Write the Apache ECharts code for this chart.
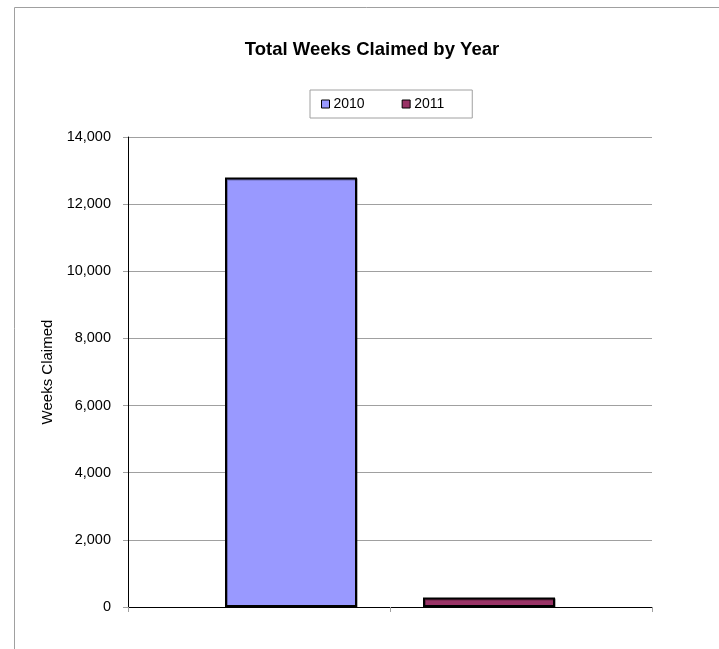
<!DOCTYPE html>
<html>
<head>
<meta charset="utf-8">
<script src="https://cdn.jsdelivr.net/npm/echarts@6/dist/echarts.min.js"></script>
<style>
  html, body { margin: 0; padding: 0; background: #fff; }
  #chart { width: 719px; height: 649px; }
</style>
</head>
<body>
<div id="chart"></div>
<script>
// data
var years = ["2010", "2011"];
var weeksClaimed = [12790, 280];
var barColors = ["#9999FF", "#993366"];
var yTicks = [0, 2000, 4000, 6000, 8000, 10000, 12000, 14000];

var chart = echarts.init(document.getElementById("chart"));

var seriesList = years.map(function (y, i) {
  return {
    name: y,
    type: "bar",
    xAxisIndex: 0,
    data: [weeksClaimed[i]],
    barWidth: 132,
    barGap: "50%",
    itemStyle: {
      color: barColors[i],
      borderColor: "#000",
      borderWidth: 2,
      shadowColor: "rgba(0,0,0,0.3)",
      shadowOffsetX: 1,
      shadowOffsetY: 1,
    },
  };
});

var option = {
  animation: false,
  textStyle: { fontFamily: "Liberation Sans, Arial, sans-serif" },
  title: {
    text: "Total Weeks Claimed by Year",
    left: 367,
    textAlign: "center",
    top: 35,
    textStyle: { fontSize: 18.5, fontWeight: "bold", color: "#000" },
  },
  legend: {
    data: years,
    left: 310,
    top: 90,
    orient: "horizontal",
    icon: "rect",
    padding: [7, 28, 7, 11],
    itemGap: 37,
    itemWidth: 8,
    itemHeight: 8,
    itemStyle: { borderWidth: 1, borderColor: "#000" },
    borderColor: "#A0A0A0",
    borderWidth: 1,
    textStyle: { fontSize: 14, color: "#000", padding: [0, 0, 0, -1] },
  },
  grid: { left: 128, right: 67, top: 137, bottom: 42, containLabel: false },
  xAxis: [
    {
      type: "category",
      data: [""],
      axisLine: { lineStyle: { color: "#000", width: 1 } },
      axisTick: { show: false },
      axisLabel: { show: false },
    },
    {
      // only draws the category ticks under the axis
      type: "category",
      data: years,
      position: "bottom",
      axisLine: { show: false },
      axisTick: { show: true, length: 5, lineStyle: { color: "#A0A0A0" } },
      axisLabel: { show: false },
    },
  ],
  yAxis: {
    type: "value",
    min: yTicks[0],
    max: yTicks[yTicks.length - 1],
    interval: 2000,
    name: "Weeks Claimed",
    nameLocation: "middle",
    nameGap: 70,
    nameTextStyle: { fontSize: 15, color: "#000" },
    axisLine: { show: true, lineStyle: { color: "#000" } },
    axisTick: { show: true, length: 5, lineStyle: { color: "#A0A0A0" } },
    axisLabel: {
      fontSize: 14.5,
      color: "#000",
      margin: 17,
      formatter: function (v) { return v.toLocaleString("en-US"); },
    },
    splitLine: { lineStyle: { color: "#A0A0A0", width: 1 } },
  },
  graphic: [
    { type: "line", shape: { x1: 14.5, y1: 7.5, x2: 719, y2: 7.5 }, style: { stroke: "#A0A0A0", lineWidth: 1 } },
    { type: "line", shape: { x1: 14.5, y1: 7.5, x2: 14.5, y2: 649 }, style: { stroke: "#A0A0A0", lineWidth: 1 } },
  ],
  series: seriesList,
};

chart.setOption(option);
</script>
</body>
</html>
